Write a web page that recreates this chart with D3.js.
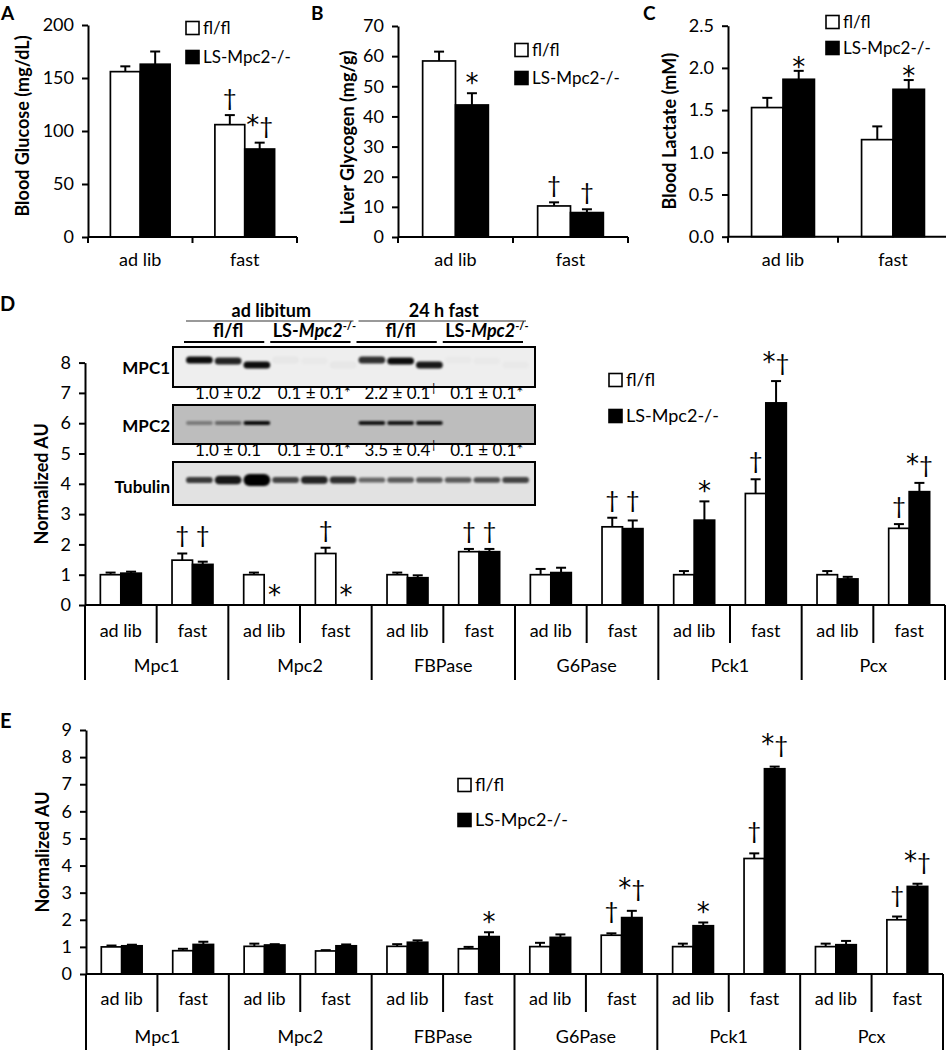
<!DOCTYPE html>
<html><head><meta charset="utf-8">
<script src="https://cdn.jsdelivr.net/npm/d3@7"></script>
<style>body{margin:0;background:#fff}svg{display:block}text{font-family:Lato,'Open Sans','DejaVu Sans',sans-serif;fill:#000}</style>
</head><body><svg id="c" width="946" height="1050"></svg>
<script>
// ---------------- data ----------------
const conditions = ["ad lib", "fast"];
const seriesNames = ["fl/fl", "LS-Mpc2-/-"];

const glucoseTicks = [0, 50, 100, 150, 200];
const glucoseFl = [156, 106];
const glucoseFlErr = [5, 9];
const glucoseLs = [163, 83];
const glucoseLsErr = [12, 6];
const glucoseFlMark = ["", "†"];
const glucoseLsMark = ["", "*†"];

const glycogenTicks = [0, 10, 20, 30, 40, 50, 60, 70];
const glycogenFl = [58.4, 10.3];
const glycogenFlErr = [3.1, 1.2];
const glycogenLs = [43.8, 8.1];
const glycogenLsErr = [3.9, 1.1];
const glycogenFlMark = ["", "†"];
const glycogenLsMark = ["*", "†"];

const lactateTicks = [0, 0.5, 1.0, 1.5, 2.0, 2.5];
const lactateFl = [1.53, 1.15];
const lactateFlErr = [0.115, 0.157];
const lactateLs = [1.865, 1.746];
const lactateLsErr = [0.1, 0.11];
const lactateFlMark = ["", ""];
const lactateLsMark = ["*", "*"];

const genes = ["Mpc1", "Mpc2", "FBPase", "G6Pase", "Pck1", "Pcx"];

// panel D (gene x condition, flattened)
const proteinTicks = [0, 1, 2, 3, 4, 5, 6, 7, 8];
const proteinFl    = [1.0, 1.48, 1.0, 1.70, 1.0, 1.76, 1.0, 2.58, 1.0, 3.68, 1.0, 2.53];
const proteinFlErr = [0.07, 0.22, 0.07, 0.19, 0.07, 0.09, 0.19, 0.30, 0.12, 0.47, 0.12, 0.14];
const proteinLs    = [1.05, 1.34, 0, 0, 0.90, 1.76, 1.07, 2.52, 2.80, 6.67, 0.86, 3.74];
const proteinLsErr = [0.05, 0.09, 0, 0, 0.08, 0.09, 0.16, 0.27, 0.62, 0.72, 0.07, 0.29];
const proteinFlMark = ["", "†", "", "†", "", "†", "", "†", "", "†", "", "†"];
const proteinLsMark = ["", "†", "*", "*", "", "†", "", "†", "*", "*†", "", "*†"];

// panel E
const mrnaTicks = [0, 1, 2, 3, 4, 5, 6, 7, 8, 9];
const mrnaFl    = [1.0, 0.86, 1.02, 0.85, 1.02, 0.93, 1.01, 1.43, 1.01, 4.26, 1.01, 2.0];
const mrnaFlErr = [0.05, 0.07, 0.10, 0.03, 0.08, 0.07, 0.14, 0.07, 0.11, 0.19, 0.11, 0.12];
const mrnaLs    = [1.04, 1.09, 1.07, 1.04, 1.17, 1.38, 1.35, 2.08, 1.78, 7.57, 1.08, 3.23];
const mrnaLsErr = [0.04, 0.10, 0.03, 0.05, 0.07, 0.16, 0.11, 0.25, 0.12, 0.08, 0.14, 0.10];
const mrnaFlMark = ["", "", "", "", "", "", "", "†", "", "†", "", "†"];
const mrnaLsMark = ["", "", "", "", "", "*", "", "*†", "*", "*†", "", "*†"];

// western blot inset
const blotConditions = ["ad libitum", "24 h fast"];
const blotGenotypes = ["fl/fl", "LS-Mpc2-/-", "fl/fl", "LS-Mpc2-/-"];
const blotProteins = ["MPC1", "MPC2", "Tubulin"];
const mpc1Band = [0.95, 0.85, 0.95, 0.03, 0.02, 0.03, 0.8, 0.95, 0.9, 0.02, 0.02, 0.02];
const mpc2Band = [0.35, 0.45, 0.95, 0, 0, 0, 0.9, 0.9, 0.9, 0, 0, 0];
const tubulinBand = [0.75, 0.9, 1.0, 0.7, 0.85, 0.8, 0.55, 0.6, 0.6, 0.6, 0.65, 0.7];
const mpc1Quant = ["1.0 ± 0.2", "0.1 ± 0.1*", "2.2 ± 0.1|†", "0.1 ± 0.1*"];
const mpc2Quant = ["1.0 ± 0.1", "0.1 ± 0.1*", "3.5 ± 0.4|†", "0.1 ± 0.1*"];

// ---------------- drawing ----------------
const FONT = "Lato, 'Open Sans', 'DejaVu Sans', sans-serif";
const svg = d3.select("#c");
svg.append("rect").attr("width", 946).attr("height", 1050).attr("fill", "#fff");
const defs = svg.append("defs");
defs.append("filter").attr("id", "blur").attr("x", "-20%").attr("y", "-100%").attr("width", "140%").attr("height", "300%")
  .append("feGaussianBlur").attr("stdDeviation", 1.3);

function yAxis(g, y, x, ticks, fmt, fs) {
  const a = g.append("g").attr("transform", `translate(${x},0)`)
    .call(d3.axisLeft(y).tickValues(ticks).tickFormat(fmt).tickSize(6).tickSizeOuter(0).tickPadding(8));
  a.attr("font-family", FONT).attr("font-size", fs);
  a.selectAll("path,line").attr("stroke", "#000").attr("stroke-width", 2);
  a.selectAll("text").attr("fill", "#000");
  return a;
}

function mark(g, txt, cx, errTop, gap, starOff) {
  if (!txt) return;
  const dag = txt.includes("†");
  const t = g.append("text").attr("x", cx).attr("y", dag ? errTop - gap : errTop + starOff)
    .attr("text-anchor", "middle");
  txt.split("").forEach(ch => {
    if (ch === "*") t.append("tspan").attr("font-family", "'DejaVu Sans', sans-serif").attr("font-size", 26).text(ch);
    else t.append("tspan").attr("font-size", 24).text(ch);
  });
}

function drawSeries(g, xs, bw, y, zeroY, vals, errs, fill) {
  vals.forEach((v, i) => {
    const cx = xs[i] + bw / 2, e = errs[i];
    if (e > 0) {
      g.append("line").attr("x1", cx).attr("x2", cx).attr("y1", y(v)).attr("y2", y(v + e))
        .attr("stroke", "#000").attr("stroke-width", 2);
      g.append("line").attr("x1", cx - 5).attr("x2", cx + 5).attr("y1", y(v + e)).attr("y2", y(v + e))
        .attr("stroke", "#000").attr("stroke-width", 2);
    }
    if (v > 0) {
      g.append("rect").attr("x", xs[i]).attr("y", y(v)).attr("width", bw).attr("height", zeroY - y(v))
        .attr("fill", fill).attr("stroke", "#000").attr("stroke-width", 1.7);
    }
  });
}

function legend(g, x, y1, y2, fs) {
  [[y1, "#fff", seriesNames[0]], [y2, "#000", seriesNames[1]]].forEach(([yy, f, t]) => {
    g.append("rect").attr("x", x).attr("y", yy - 6.5).attr("width", 13).attr("height", 13)
      .attr("fill", f).attr("stroke", "#000").attr("stroke-width", 1.6);
    g.append("text").attr("x", x + 17).attr("y", yy).attr("dy", "0.35em").attr("font-size", fs).text(t);
  });
}

function smallPanel(o) {
  const g = svg.append("g");
  const y = d3.scaleLinear().domain([0, o.max]).range([o.zeroY, o.topY]);
  const x = d3.scaleBand().domain(conditions).range([o.left, o.right]);
  const xi = d3.scaleBand().domain([0, 1]).range([0, x.bandwidth()]).paddingInner(0).paddingOuter(0.75);
  const bw = xi.bandwidth();
  const xf = conditions.map(c => x(c) + xi(0));
  const xl = conditions.map(c => x(c) + xi(1));
  drawSeries(g, xf, bw, y, o.zeroY, o.fl, o.flErr, "#fff");
  drawSeries(g, xl, bw, y, o.zeroY, o.ls, o.lsErr, "#000");
  o.flMark.forEach((m, i) => mark(g, m, xf[i] + bw / 2, y(o.fl[i] + o.flErr[i]), 9, o.starOff));
  o.lsMark.forEach((m, i) => mark(g, m, xl[i] + bw / 2, y(o.ls[i] + o.lsErr[i]), 9, o.starOff));
  yAxis(g, y, o.left, o.ticks, o.fmt, 18);
  // x axis
  g.append("line").attr("x1", o.left).attr("x2", o.right).attr("y1", o.zeroY).attr("y2", o.zeroY)
    .attr("stroke", "#000").attr("stroke-width", 2);
  conditions.map(c => x(c)).concat([o.right]).forEach(tx => {
    g.append("line").attr("x1", tx).attr("x2", tx).attr("y1", o.zeroY).attr("y2", o.zeroY + 6)
      .attr("stroke", "#000").attr("stroke-width", 2);
  });
  conditions.forEach(c => g.append("text").attr("x", x(c) + x.bandwidth() / 2).attr("y", o.zeroY + 29)
    .attr("text-anchor", "middle").attr("font-size", 18).text(c));
  g.append("text").attr("transform", `translate(${o.titleX},${(o.zeroY + o.topY) / 2 + o.titleDy}) rotate(-90)`)
    .attr("text-anchor", "middle").attr("dy", "0.35em").attr("font-size", 18).attr("font-weight", "bold").text(o.title);
  g.append("text").attr("x", o.letterX).attr("y", 20).attr("font-size", 19).attr("font-weight", "bold").text(o.letter);
  legend(g, o.legX, o.legY1, o.legY2, 17);
}

smallPanel({left: 88, right: 297, zeroY: 237, topY: 25, max: 200, ticks: glucoseTicks, fmt: d3.format("d"),
  fl: glucoseFl, flErr: glucoseFlErr, ls: glucoseLs, lsErr: glucoseLsErr, flMark: glucoseFlMark, lsMark: glucoseLsMark,
  starOff: -1, title: "Blood Glucose (mg/dL)", titleX: 23, titleDy: -5, letter: "A", letterX: 1, legX: 186, legY1: 28, legY2: 57});
smallPanel({left: 398, right: 628, zeroY: 237, topY: 26, max: 70, ticks: glycogenTicks, fmt: d3.format("d"),
  fl: glycogenFl, flErr: glycogenFlErr, ls: glycogenLs, lsErr: glycogenLsErr, flMark: glycogenFlMark, lsMark: glycogenLsMark,
  starOff: -1, title: "Liver Glycogen (mg/g)", titleX: 348, titleDy: 6, letter: "B", letterX: 311, legX: 515, legY1: 50, legY2: 78});
smallPanel({left: 728, right: 948, zeroY: 236.7, topY: 25.7, max: 2.5, ticks: lactateTicks, fmt: d3.format(".1f"),
  fl: lactateFl, flErr: lactateFlErr, ls: lactateLs, lsErr: lactateLsErr, flMark: lactateFlMark, lsMark: lactateLsMark,
  starOff: 5, title: "Blood Lactate (mM)", titleX: 670, titleDy: 0, letter: "C", letterX: 643, legX: 826, legY1: 22, legY2: 48});

function bigPanel(o) {
  const g = svg.append("g");
  const y = d3.scaleLinear().domain([0, o.max]).range([o.zeroY, o.topY]);
  const xo = d3.scaleBand().domain(genes).range([o.left, o.right]);
  const xc = d3.scaleBand().domain(conditions).range([0, xo.bandwidth()]);
  const xi = d3.scaleBand().domain([0, 1]).range([0, xc.bandwidth()]).paddingInner(0).paddingOuter(0.75);
  const bw = xi.bandwidth();
  const subX = [];
  genes.forEach(gn => conditions.forEach(c => subX.push(xo(gn) + xc(c))));
  const xf = subX.map(s => s + xi(0)), xl = subX.map(s => s + xi(1));
  drawSeries(g, xf, bw, y, o.zeroY, o.fl, o.flErr, "#fff");
  drawSeries(g, xl, bw, y, o.zeroY, o.ls, o.lsErr, "#000");
  subX.forEach((s, i) => {
    let tf = y(o.fl[i] + o.flErr[i]), tl = y(o.ls[i] + o.lsErr[i]);
    if (o.align && o.flMark[i] === "†" && o.lsMark[i] === "†") { tf = tl = Math.min(tf, tl); }
    mark(g, o.flMark[i], xf[i] + bw / 2, tf, o.gap, -1);
    mark(g, o.lsMark[i], xl[i] + bw / 2, tl, o.gap, -1);
  });
  yAxis(g, y, o.left, o.ticks, d3.format("d"), 18);
  // category axis
  const ln = (x1, y1, x2, y2) => g.append("line").attr("x1", x1).attr("y1", y1).attr("x2", x2).attr("y2", y2)
    .attr("stroke", "#000").attr("stroke-width", 2);
  ln(o.left, o.zeroY, o.right, o.zeroY);
  genes.forEach(gn => {
    ln(xo(gn), o.zeroY, xo(gn), o.zeroY + o.longLen);
    conditions.forEach((c, ci) => {
      const sx = xo(gn) + xc(c);
      if (ci > 0) ln(sx, o.zeroY, sx, o.zeroY + o.shortLen);
      g.append("text").attr("x", sx + xc.bandwidth() / 2).attr("y", o.subY).attr("text-anchor", "middle")
        .attr("font-size", 18).text(c);
    });
    g.append("text").attr("x", xo(gn) + xo.bandwidth() / 2).attr("y", o.grpY).attr("text-anchor", "middle")
      .attr("font-size", 18).text(gn);
  });
  ln(o.right, o.zeroY, o.right, o.zeroY + o.longLen);
  g.append("text").attr("transform", `translate(${o.titleX},${(o.zeroY + o.topY) / 2}) rotate(-90)`)
    .attr("text-anchor", "middle").attr("dy", "0.35em").attr("font-size", 18).attr("font-weight", "bold").text("Normalized AU");
  g.append("text").attr("x", 0).attr("y", o.letterY).attr("font-size", 20).attr("font-weight", "bold").text(o.letter);
  legend(g, o.legX, o.legY1, o.legY2, 18);
}

bigPanel({left: 85, right: 945, zeroY: 605, topY: 362.6, max: 8, ticks: proteinTicks,
  fl: proteinFl, flErr: proteinFlErr, ls: proteinLs, lsErr: proteinLsErr, flMark: proteinFlMark, lsMark: proteinLsMark,
  gap: 10, align: true, shortLen: 38, longLen: 75, subY: 637, grpY: 672, titleX: 42, letter: "D", letterY: 311,
  legX: 609, legY1: 380, legY2: 416});
bigPanel({left: 86, right: 943, zeroY: 974, topY: 730, max: 9, ticks: mrnaTicks,
  fl: mrnaFl, flErr: mrnaFlErr, ls: mrnaLs, lsErr: mrnaLsErr, flMark: mrnaFlMark, lsMark: mrnaLsMark,
  gap: 14, align: false, shortLen: 38, longLen: 80, subY: 1005, grpY: 1043, titleX: 43, letter: "E", letterY: 728,
  legX: 458, legY1: 785, legY2: 820});

// ---------------- western blot inset ----------------
(function blot() {
  const g = svg.append("g");
  const L = 185, R = 530;
  const lane = d3.scaleBand().domain(d3.range(12)).range([L, R]);
  const grp = d3.scaleBand().domain(d3.range(4)).range([L, R]);
  const cond = d3.scaleBand().domain(blotConditions).range([L, R]);
  const boxX = 173, boxR = 535;
  blotConditions.forEach(c => {
    g.append("text").attr("x", cond(c) + cond.bandwidth() / 2).attr("y", 317).attr("text-anchor", "middle")
      .attr("font-size", 18).attr("font-weight", "bold").text(c);
    g.append("line").attr("x1", cond(c) + 1).attr("x2", cond(c) + cond.bandwidth() - 4).attr("y1", 321).attr("y2", 321)
      .attr("stroke", "#999").attr("stroke-width", 2);
  });
  blotGenotypes.forEach((t, i) => {
    const cx = grp(i) + grp.bandwidth() / 2;
    const tx = g.append("text").attr("x", cx).attr("y", 337).attr("text-anchor", "middle")
      .attr("font-size", 18).attr("font-weight", "bold");
    if (t.startsWith("LS")) {
      tx.append("tspan").text("LS-");
      tx.append("tspan").attr("font-style", "italic").text("Mpc2");
      tx.append("tspan").attr("font-size", 11).attr("dy", -7).text("-/-");
    } else tx.text(t);
    g.append("line").attr("x1", grp(i) - 1).attr("x2", grp(i) + grp.bandwidth() - 7).attr("y1", 342).attr("y2", 342)
      .attr("stroke", "#000").attr("stroke-width", 2);
  });
  const boxes = [
    {name: blotProteins[0], y0: 347, y1: 387, fill: "#eeeeee", bands: mpc1Band, by: 362, h: 7, labY: 368},
    {name: blotProteins[1], y0: 405, y1: 444, fill: "#bdbdbd", bands: mpc2Band, by: 423, h: 4, labY: 426},
    {name: blotProteins[2], y0: 462, y1: 505, fill: "#e2e2e2", bands: tubulinBand, by: 480, h: 5, labY: 487}
  ];
  boxes.forEach(b => {
    g.append("rect").attr("x", boxX).attr("y", b.y0).attr("width", boxR - boxX).attr("height", b.y1 - b.y0)
      .attr("fill", b.fill);
    const bg = g.append("g").attr("filter", "url(#blur)");
    b.bands.forEach((v, i) => {
      if (v <= 0) return;
      const hh = b.h + (b.name === "Tubulin" ? 7 * Math.pow(v, 6) : 0);
      const off = b.name === "MPC1" ? [-2, -1, 3][i % 3] : 0;
      bg.append("rect").attr("x", lane(i) + 1).attr("y", b.by - hh / 2 + off).attr("width", lane.bandwidth() - 2)
        .attr("height", hh).attr("rx", hh / 2).attr("fill", "#000").attr("opacity", v);
    });
    g.append("rect").attr("x", boxX).attr("y", b.y0).attr("width", boxR - boxX).attr("height", b.y1 - b.y0)
      .attr("fill", "none").attr("stroke", "#000").attr("stroke-width", 2);
    g.append("text").attr("x", 170).attr("y", b.labY).attr("dy", "0.35em").attr("text-anchor", "end")
      .attr("font-size", 17).attr("font-weight", "bold").text(b.name);
  });
  [[mpc1Quant, 399], [mpc2Quant, 456]].forEach(([arr, yy]) => {
    arr.forEach((q, i) => {
      const t = g.append("text").attr("x", grp(i) + grp.bandwidth() / 2).attr("y", yy)
        .attr("text-anchor", "middle").attr("font-size", 17);
      const [a, s] = q.split("|");
      t.append("tspan").text(a);
      if (s) t.append("tspan").attr("font-size", 11).attr("dy", -7).text(s);
    });
  });
})();
</script></body></html>
